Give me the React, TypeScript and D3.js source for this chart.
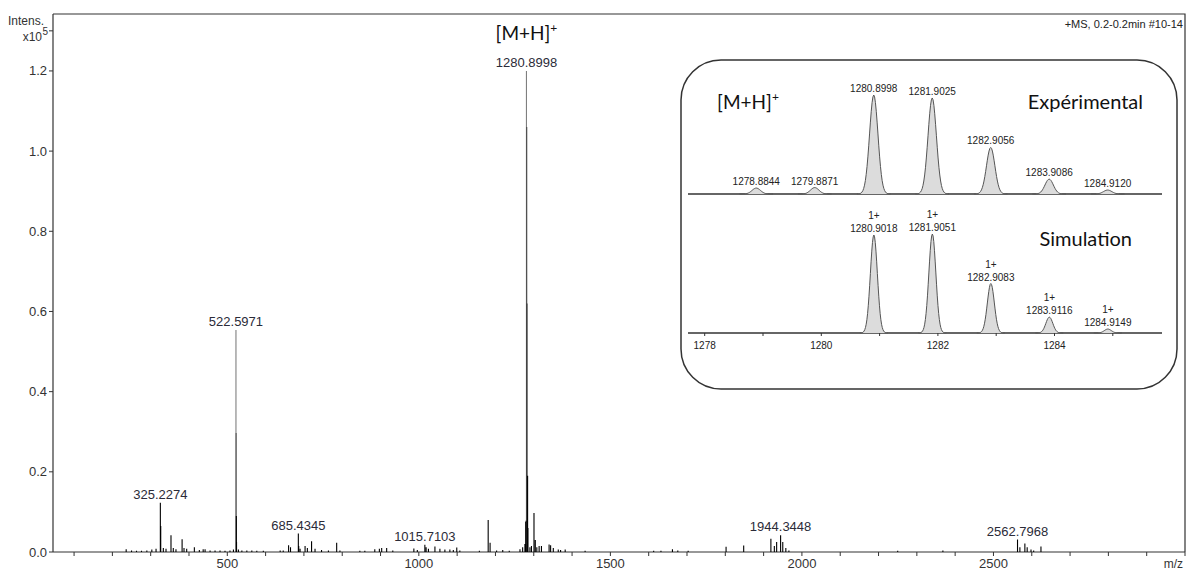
import React from "react";
import * as d3 from "d3";

// ---------- main spectrum (m/z, intensity x10^5) ----------
const spectrumMz = [
  236, 250, 263, 276, 290, 303, 314, 325.2274, 326.23, 333, 340, 353, 359, 366, 382, 387, 394, 414, 427, 437, 442,
  455, 468, 481, 494, 507, 516, 522.5971, 523.1, 523.6, 524.1, 529, 538, 551, 564, 577, 594, 638, 646, 660, 665,
  685.4345, 686.44, 690, 703, 709, 720, 729, 746, 764, 785.5, 794, 846, 859, 885, 897, 903, 916, 932, 987, 996,
  1015.7103, 1019, 1025, 1042, 1055, 1068, 1081, 1090, 1099, 1107, 1158, 1181, 1186, 1203, 1219, 1236, 1264, 1271,
  1276.9, 1278.8844, 1279.8871, 1280.8998, 1281.9025, 1282.9056, 1283.9086, 1284.912, 1290, 1294, 1300.6, 1304,
  1308, 1314, 1320, 1340, 1344, 1351, 1364, 1370, 1382, 1434, 1613, 1632, 1662, 1676, 1703, 1802, 1848, 1919,
  1928, 1934, 1944.3448, 1950, 1958, 1966, 2250, 2368, 2562.7968, 2569, 2582, 2588, 2598, 2605, 2624,
];
const spectrumInt = [
  0.007, 0.004, 0.003, 0.003, 0.004, 0.006, 0.008, 0.123, 0.065, 0.01, 0.008, 0.042, 0.01, 0.007, 0.032, 0.01, 0.008, 0.012, 0.005, 0.007, 0.007,
  0.004, 0.004, 0.004, 0.003, 0.004, 0.006, 0.554, 0.297, 0.09, 0.025, 0.006, 0.004, 0.004, 0.004, 0.003, 0.003, 0.004, 0.004, 0.017, 0.012,
  0.046, 0.015, 0.008, 0.015, 0.01, 0.027, 0.008, 0.005, 0.004, 0.023, 0.004, 0.003, 0.003, 0.007, 0.008, 0.01, 0.01, 0.004, 0.009, 0.005,
  0.018, 0.012, 0.008, 0.014, 0.008, 0.006, 0.006, 0.005, 0.011, 0.004, 0.003, 0.08, 0.023, 0.004, 0.005, 0.003, 0.007, 0.012,
  0.02, 0.075, 0.078, 1.2, 1.06, 0.62, 0.19, 0.06, 0.012, 0.015, 0.097, 0.03,
  0.012, 0.015, 0.015, 0.019, 0.017, 0.01, 0.006, 0.005, 0.006, 0.003, 0.003, 0.003, 0.007, 0.004, 0.003, 0.013, 0.016, 0.033,
  0.015, 0.025, 0.042, 0.025, 0.01, 0.004, 0.003, 0.004, 0.031, 0.012, 0.021, 0.012, 0.006, 0.004, 0.014,
];
const annotatedMz = [325.2274, 522.5971, 685.4345, 1015.7103, 1280.8998, 1944.3448, 2562.7968];
const annotatedLabels = ["325.2274", "522.5971", "685.4345", "1015.7103", "1280.8998", "1944.3448", "2562.7968"];
const yTickValues = [0, 0.2, 0.4, 0.6, 0.8, 1.0, 1.2];
const yTickLabels = ["0.0", "0.2", "0.4", "0.6", "0.8", "1.0", "1.2"];
const xMajorTicks = [500, 1000, 1500, 2000, 2500];
const xMinorTicks = d3.range(100, 3001, 100);

// ---------- inset: isotope pattern ----------
const expMz = [1278.8844, 1279.8871, 1280.8998, 1281.9025, 1282.9056, 1283.9086, 1284.912];
const expRel = [6, 6.5, 100, 97, 47, 15, 4];
const expLabels = ["1278.8844", "1279.8871", "1280.8998", "1281.9025", "1282.9056", "1283.9086", "1284.9120"];
const simMz = [1280.9018, 1281.9051, 1282.9083, 1283.9116, 1284.9149];
const simRel = [99, 100, 50, 16, 4];
const simLabels = ["1280.9018", "1281.9051", "1282.9083", "1283.9116", "1284.9149"];
const simCharge = ["1+", "1+", "1+", "1+", "1+"];
const insetTickLabels = [1278, 1280, 1282, 1284];
const insetMinorTicks = [1278, 1279, 1280, 1281, 1282, 1283, 1284, 1285];

const W = 1187;
const H = 571;
const M = { left: 53, top: 14, right: 1185, bottom: 552 };

const sans = "'Liberation Sans', Arial, sans-serif";
const cal = "Lato, 'Open Sans', sans-serif";

export default function App() {
  const x = d3.scaleLinear().domain([45, 3000]).range([M.left, M.right]);
  const y = d3.scaleLinear().domain([0, 1.342]).range([M.bottom, M.top]);

  const bigIdx = spectrumMz.map((_, i) => i).filter((i) => spectrumInt[i] > 0.2);
  const smallIdx = spectrumMz.map((_, i) => i).filter((i) => spectrumInt[i] <= 0.2);
  const stickPath = (idx: number[]) =>
    idx.map((i) => `M${x(spectrumMz[i]).toFixed(2)},${M.bottom}V${y(spectrumInt[i]).toFixed(2)}`).join("");

  // inset scales
  const xi = d3.scaleLinear().domain([1278, 1284]).range([704.7, 1054.5]);
  const yExp = d3.scaleLinear().domain([0, 100]).range([194, 95]);
  const ySim = d3.scaleLinear().domain([0, 100]).range([333, 234]);
  const inL = 688;
  const inR = 1162;

  const profile = (m: number, h: number, sigma: number) => {
    const pts: [number, number][] = [];
    const n = 40;
    for (let k = 0; k <= n; k++) {
      const dx = -4 * sigma + (8 * sigma * k) / n;
      pts.push([m + dx, h * Math.exp(-(dx * dx) / (2 * sigma * sigma))]);
    }
    return pts;
  };
  const peakArea = (m: number, h: number, sigma: number, ys: d3.ScaleLinear<number, number>) =>
    d3
      .area<[number, number]>()
      .x((d) => xi(d[0]))
      .y0(ys(0))
      .y1((d) => ys(d[1]))(profile(m, h, sigma)) as string;
  const peakLine = (m: number, h: number, sigma: number, ys: d3.ScaleLinear<number, number>) =>
    d3
      .line<[number, number]>()
      .x((d) => xi(d[0]))
      .y((d) => ys(d[1]))(profile(m, h, sigma)) as string;

  return (
    <svg
      width={W}
      height={H}
      style={{ position: "absolute", left: 0, top: 0, background: "#fff" }}
      fontFamily={sans}
    >
      <rect x={0} y={0} width={W} height={H} fill="#fff" />
      {/* frame */}
      <path d={`M${M.left},${M.top}H${M.right}V${M.bottom}`} fill="none" stroke="#333" strokeWidth={1.2} />
      <line x1={M.left} x2={M.left} y1={M.top} y2={M.bottom} stroke="#333" strokeWidth={1.2} />
      <line x1={M.left} x2={M.right} y1={M.bottom} y2={M.bottom} stroke="#333" strokeWidth={1.2} />

      {/* y ticks */}
      {yTickValues.map((v, i) => (
        <g key={"y" + i}>
          <line x1={M.left - 4} x2={M.left} y1={y(v)} y2={y(v)} stroke="#333" strokeWidth={1} />
          <text x={M.left - 6} y={y(v)} dy="0.35em" textAnchor="end" fontSize={13} fill="#333">
            {yTickLabels[i]}
          </text>
        </g>
      ))}
      <line x1={M.left - 4} x2={M.left} y1={y(1.3)} y2={y(1.3)} stroke="#333" strokeWidth={1} />
      <text x={44} y={25} textAnchor="end" fontSize={12} fill="#333">
        Intens.
      </text>
      <text x={42} y={41} textAnchor="end" fontSize={12} fill="#333">
        x10
      </text>
      <text x={42.5} y={35} fontSize={10} fill="#333">
        5
      </text>

      {/* x ticks */}
      {xMinorTicks.map((v) => (
        <line key={"xt" + v} x1={x(v)} x2={x(v)} y1={M.bottom} y2={M.bottom + 4} stroke="#333" strokeWidth={1} />
      ))}
      {xMajorTicks.map((v) => (
        <text key={"xl" + v} x={x(v)} y={568} textAnchor="middle" fontSize={13} fill="#333">
          {v}
        </text>
      ))}
      <text x={1183} y={568} textAnchor="end" fontSize={12} fill="#333">
        m/z
      </text>

      <text
        x={1183}
        y={28}
        textAnchor="end"
        fontSize={11}
        fill="#222"
        fontFamily="'Liberation Sans Narrow', 'Liberation Sans', sans-serif"
      >
        +MS, 0.2-0.2min #10-14
      </text>

      {/* spectrum */}
      <path d={stickPath(smallIdx)} stroke="#000" strokeWidth={1.1} fill="none" />
      {bigIdx.map((i) => (
        <path
          key={"b" + i}
          d={stickPath([i])}
          stroke="#000"
          strokeOpacity={0.5}
          strokeWidth={1.1}
          fill="none"
        />
      ))}

      {/* annotations */}
      {annotatedMz.map((m, i) => {
        const idx = spectrumMz.indexOf(m);
        return (
          <text key={"a" + i} x={x(m)} y={y(spectrumInt[idx]) - 4} textAnchor="middle" fontSize={13} fill="#2b2b38">
            {annotatedLabels[i]}
          </text>
        );
      })}
      <text x={x(1280.8998)} y={40} textAnchor="middle" fontSize={19} fill="#111" fontFamily={cal}>
        [M+H]
        <tspan fontSize={12} dy={-8}>
          +
        </tspan>
      </text>

      {/* inset box */}
      <rect x={681} y={60} width={496} height={329} rx={40} ry={40} fill="#fff" stroke="#333" strokeWidth={1.5} />
      <text x={748} y={109} textAnchor="middle" fontSize={19} fill="#111" fontFamily={cal}>
        [M+H]
        <tspan fontSize={12} dy={-8}>
          +
        </tspan>
      </text>
      <text x={1143} y={109} textAnchor="end" fontSize={20} fill="#111" fontFamily={cal}>
        Expérimental
      </text>
      <text x={1132} y={246} textAnchor="end" fontSize={20} fill="#111" fontFamily={cal}>
        Simulation
      </text>

      {/* experimental */}
      <line x1={inL} x2={inR} y1={yExp(0)} y2={yExp(0)} stroke="#333" strokeWidth={1.3} />
      {expMz.map((m, i) => (
        <g key={"e" + i}>
          <path d={peakArea(m, expRel[i], 0.072, yExp)} fill="#dcdcdc" stroke="none" />
          <path d={peakLine(m, expRel[i], 0.072, yExp)} fill="none" stroke="#555" strokeWidth={1} />
          <text x={xi(m)} y={yExp(expRel[i]) - 3} textAnchor="middle" fontSize={10} fill="#222">
            {expLabels[i]}
          </text>
        </g>
      ))}

      {/* simulation */}
      <line x1={inL} x2={inR} y1={ySim(0)} y2={ySim(0)} stroke="#333" strokeWidth={1.3} />
      {insetMinorTicks.map((t) => (
        <line key={"it" + t} x1={xi(t)} x2={xi(t)} y1={ySim(0)} y2={ySim(0) + 3} stroke="#333" strokeWidth={1} />
      ))}
      {insetTickLabels.map((t) => (
        <text key={"il" + t} x={xi(t)} y={349} textAnchor="middle" fontSize={10} fill="#222">
          {t}
        </text>
      ))}
      {simMz.map((m, i) => (
        <g key={"s" + i}>
          <path d={peakArea(m, simRel[i], 0.06, ySim)} fill="#dcdcdc" stroke="none" />
          <path d={peakLine(m, simRel[i], 0.06, ySim)} fill="none" stroke="#555" strokeWidth={1} />
          <text x={xi(m)} y={ySim(simRel[i]) - 3} textAnchor="middle" fontSize={10} fill="#222">
            {simLabels[i]}
          </text>
          <text x={xi(m)} y={ySim(simRel[i]) - 16} textAnchor="middle" fontSize={10} fill="#222">
            {simCharge[i]}
          </text>
        </g>
      ))}
    </svg>
  );
}
